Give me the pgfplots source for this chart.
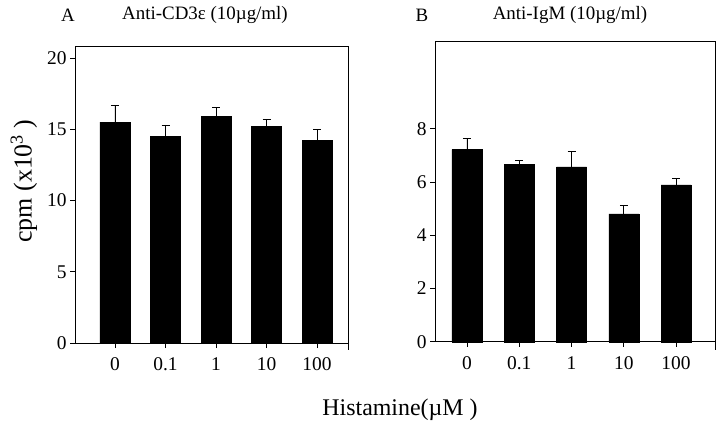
\documentclass[border=0pt]{standalone}
\usepackage{pgfplots}
\pgfplotsset{compat=1.18}
\usepackage{fontspec}
\setmainfont{Liberation Serif}

\begin{document}
\begin{tikzpicture}[x=1bp,y=1bp]
\useasboundingbox (0,0) rectangle (720,428);
\pgfplotsset{
  panel/.style={
    scale only axis, anchor=south west,
    axis line style={line width=0.9bp},
    tick style={line width=0.9bp, black},
    tick align=outside, major tick length=5bp,
    xtick pos=bottom, ytick pos=left,
    ymin=0, ybar, bar width=30bp, bar shift=0pt,
    xtick={0,1,2,3,4}, xticklabels={0,0.1,1,10,100},
    tick label style={font=\fontsize{19.5}{21}\selectfont},
    xticklabel style={yshift=-6bp},
    /pgf/number format/assume math mode=true,
    clip=false,
  },
  barplot/.style={fill=black, draw=black, line width=0.4bp,
    error bars/.cd, y dir=plus, y explicit,
    error mark options={rotate=90, mark size=4bp, line width=0.9bp, black},
    error bar style={line width=0.9bp, black}},
}

% Panel A
\begin{axis}[panel, at={(75bp,85bp)}, width=273bp, height=297bp,
  xmin=-0.792, xmax=4.614, ymax=20.84, ytick={0,5,10,15,20}]
\addplot[barplot] coordinates {
  (0,15.5) +- (0,1.2)
  (1,14.5) +- (0,0.8)
  (2,15.9) +- (0,0.6)
  (3,15.2) +- (0,0.5)
  (4,14.2) +- (0,0.8)
};
\draw[line width=0.9bp] (rel axis cs:1,0) -- ([yshift=-7bp]rel axis cs:1,0);
\end{axis}

% Panel B
\begin{axis}[panel, at={(435bp,86.3bp)}, width=280bp, height=300bp,
  xmin=-0.612, xmax=4.746, ymax=11.27, ytick={0,2,4,6,8}]
\addplot[barplot] coordinates {
  (0,7.22) +- (0,0.41)
  (1,6.65) +- (0,0.17)
  (2,6.57) +- (0,0.56)
  (3,4.80) +- (0,0.31)
  (4,5.89) +- (0,0.23)
};
\draw[line width=0.9bp] (rel axis cs:1,0) -- ([yshift=-8bp]rel axis cs:1,0);
\end{axis}

\node[font=\fontsize{19}{21}\selectfont] at (68,413) {A};
\node[font=\fontsize{19}{21}\selectfont] at (205,413) {Anti-CD3ε (10µg/ml)};
\node[font=\fontsize{19}{21}\selectfont] at (422,413) {B};
\node[font=\fontsize{19}{21}\selectfont] at (570,413) {Anti-IgM (10µg/ml)};
\node[font=\fontsize{26}{28}\selectfont, rotate=90] at (24,247) {cpm (x10\textsuperscript{3} )};
\node[font=\fontsize{24}{26}\selectfont] at (400,18) {Histamine(µM )};
\end{tikzpicture}
\end{document}
